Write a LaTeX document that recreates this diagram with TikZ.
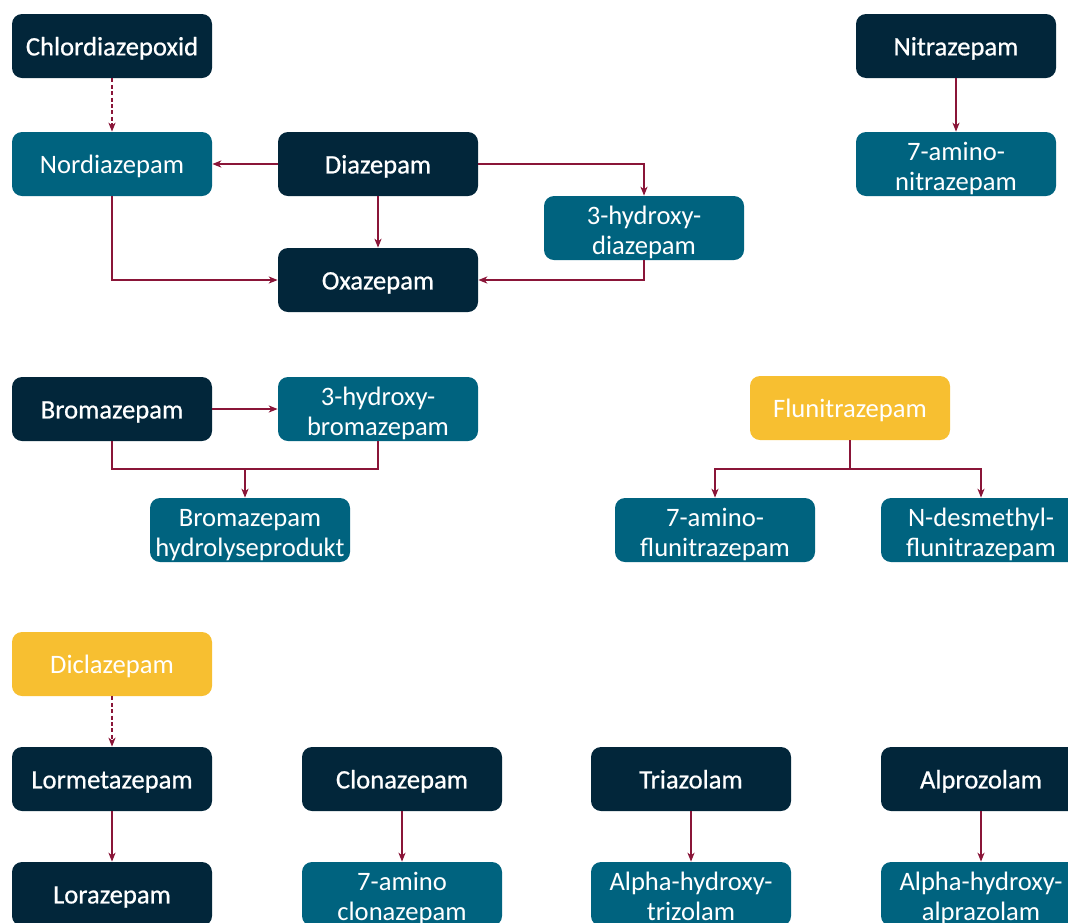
\documentclass[tikz,border=0pt]{standalone}
\usepackage{fontspec}
\setmainfont{Carlito}
\newfontfamily\mediumfont{Carlito}[FakeBold=0.7]
\usetikzlibrary{arrows.meta,positioning}
\definecolor{navy}{HTML}{02263A}
\definecolor{petrol}{HTML}{00637F}
\definecolor{gold}{HTML}{F7BF31}
\definecolor{wine}{HTML}{8A1538}
\newcommand*{\twolines}[2]{\rule{0pt}{14pt}#1\\#2\rule[-3pt]{0pt}{0pt}}
\tikzset{%
  box/.style={align=center,minimum width=100pt,minimum height=32pt,inner sep=0pt,rounded corners=5pt,text=white,font=\fontsize{13.3}{15}\selectfont,
    execute at begin node={\rule{0pt}{12.4pt}},execute at end node={\rule[-3pt]{0pt}{0pt}}},
  drug/.style={box,fill=navy,font=\fontsize{13.3}{15}\selectfont\mediumfont},
  metab/.style={box,fill=petrol},
  flagged/.style={box,fill=gold},
  wire/.style={draw=wine,line width=0.6pt},
  link/.style={wire,-{Stealth[length=4.5pt,width=3.6pt,inset=1.4pt]}},
  hint/.style={link,dash pattern=on 2pt off 1.2pt},
}

\begin{document}
\begin{tikzpicture}[x=0.5pt,y=-0.5pt]
  \useasboundingbox (0,0) rectangle (1068,922);
  \clip (0,0) rectangle (1068,922);
  % diazepam group
  \node[drug] (chlordiazepoxid) at (112,46) {Chlordiazepoxid};
  \node[metab] (nordiazepam) at (112,164) {Nordiazepam};
  \node[drug] (diazepam) at (378,164) {Diazepam};
  \node[metab] (hdiazepam) at (644,228) {\twolines{3-hydroxy-}{diazepam}};
  \node[drug] (oxazepam) at (378,280) {Oxazepam};
  \node[drug] (nitrazepam) at (956,46) {Nitrazepam};
  \node[metab] (anitrazepam) at (956,164) {\twolines{7-amino-}{nitrazepam}};
  \draw[hint] (chlordiazepoxid) -- (nordiazepam);
  \draw[link] (diazepam) -- (nordiazepam);
  \draw[link] (diazepam) -- (oxazepam);
  \draw[link] (diazepam.east) -| (hdiazepam.north);
  \draw[link] (nordiazepam.south) |- (oxazepam.west);
  \draw[link] (hdiazepam.south) |- (oxazepam.east);
  \draw[link] (nitrazepam) -- (anitrazepam);
  % bromazepam, flunitrazepam
  \node[drug] (bromazepam) at (112,409) {Bromazepam};
  \node[metab] (hbromazepam) at (378,409) {\twolines{3-hydroxy-}{bromazepam}};
  \node[metab] (hydrolyse) at (250,530) {\twolines{Bromazepam}{hydrolyseprodukt}};
  \coordinate (brjoin) at (245,469);
  \draw[link] (bromazepam) -- (hbromazepam);
  \draw[wire] (bromazepam.south) |- (brjoin) -| (hbromazepam.south);
  \draw[link] (brjoin) -- (brjoin |- hydrolyse.north);
  \node[flagged] (flunitrazepam) at (850,408) {Flunitrazepam};
  \node[metab] (aflunitrazepam) at (715,530) {\twolines{7-amino-}{flunitrazepam}};
  \node[metab] (dflunitrazepam) at (981,530) {\twolines{N-desmethyl-}{flunitrazepam}};
  \coordinate (flujoin) at (850,469);
  \draw[wire] (flunitrazepam) -- (flujoin);
  \draw[link] (flujoin) -| (aflunitrazepam.north);
  \draw[link] (flujoin) -| (dflunitrazepam.north);
  % bottom row
  \node[flagged] (diclazepam) at (112,664) {Diclazepam};
  \node[drug] (lormetazepam) at (112,779) {Lormetazepam};
  \node[drug] (lorazepam) at (112,894) {Lorazepam};
  \node[drug] (clonazepam) at (402,779) {Clonazepam};
  \node[metab] (aclonazepam) at (402,894) {\twolines{7-amino}{clonazepam}};
  \node[drug] (triazolam) at (691,779) {Triazolam};
  \node[metab] (htriazolam) at (691,894) {\twolines{Alpha-hydroxy-}{trizolam}};
  \node[drug] (alprazolam) at (981,779) {Alprozolam};
  \node[metab] (halprazolam) at (981,894) {\twolines{Alpha-hydroxy-}{alprazolam}};
  \draw[hint] (diclazepam) -- (lormetazepam);
  \draw[link] (lormetazepam) -- (lorazepam);
  \draw[link] (clonazepam) -- (aclonazepam);
  \draw[link] (triazolam) -- (htriazolam);
  \draw[link] (alprazolam) -- (halprazolam);
\end{tikzpicture}
\end{document}
